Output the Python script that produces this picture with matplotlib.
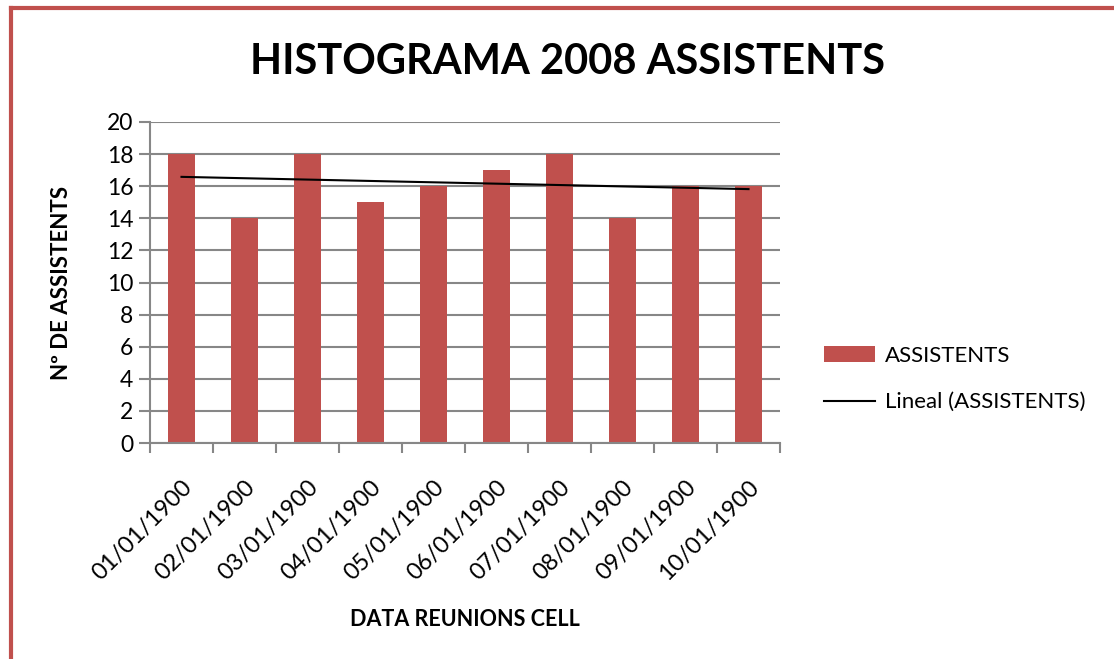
import numpy as np
import matplotlib.pyplot as plt
from matplotlib.lines import Line2D

plt.rcParams['font.family'] = ['Lato', 'DejaVu Sans']

dates = ['01/01/1900', '02/01/1900', '03/01/1900', '04/01/1900', '05/01/1900',
         '06/01/1900', '07/01/1900', '08/01/1900', '09/01/1900', '10/01/1900']
assistents = [18, 14, 18, 15, 16, 17, 18, 14, 16, 16]

red = '#C0504D'
grey = '#878787'

fig = plt.figure(figsize=(11.14, 6.59), dpi=100)
ax = fig.add_axes([150 / 1114, 1 - 443 / 659, 630 / 1114, 321 / 659])

x = np.arange(len(dates))
bars = ax.bar(x, assistents, width=0.42, color=red, zorder=2)

# linia de tendencia (regressio lineal)
k, b = np.polyfit(x + 1, assistents, 1)
trend, = ax.plot(x, k * (x + 1) + b, color='black', lw=1.5, zorder=3)

ax.set_xlim(-0.5, len(dates) - 0.5)
ax.set_ylim(0, 20)
ax.set_yticks(range(0, 21, 2))
ax.yaxis.grid(True, color=grey, lw=1.5, zorder=0)
ax.set_axisbelow(True)

ax.set_xticks(x)
ax.set_xticklabels(dates, rotation=45, ha='right', rotation_mode='anchor', fontsize=17)
ax.set_xticks(np.arange(-0.5, len(dates)), minor=True)
ax.tick_params(axis='x', which='major', length=0, pad=24)
ax.tick_params(axis='x', which='minor', length=7, width=1.5, color=grey, direction='out')
ax.tick_params(axis='y', length=8, width=1.5, color=grey, labelsize=16.5, pad=4)

for s in ['top', 'right']:
    ax.spines[s].set_visible(False)
ax.spines['left'].set_color(grey)
ax.spines['bottom'].set_color(grey)
ax.spines['left'].set_linewidth(1.5)
ax.spines['bottom'].set_linewidth(1.5)

fig.text(62 / 1114, 1 - 283 / 659, 'Nº DE ASSISTENTS', fontsize=16, fontweight='bold',
         rotation=90, ha='center', va='center')
fig.text(465 / 1114, 1 - 620 / 659, 'DATA REUNIONS CELL', fontsize=15.5,
         fontweight='bold', ha='center', va='center')
fig.text(567 / 1114, 1 - 62 / 659, 'HISTOGRAMA 2008 ASSISTENTS', fontsize=30,
         fontweight='bold', ha='center', va='center')

fig.legend([bars, trend], ['ASSISTENTS', 'Lineal (ASSISTENTS)'],
           loc='center left', bbox_to_anchor=(804 / 1114, 1 - 379 / 659),
           frameon=False, fontsize=16, handlelength=2.3, labelspacing=1.2,
           handletextpad=0.45)

# vora vermella (nomes dalt i esquerra)
fig.add_artist(Line2D([11 / 1114, 11 / 1114], [0, 1 - 8 / 659], color=red, lw=3,
                      transform=fig.transFigure))
fig.add_artist(Line2D([11 / 1114, 1], [1 - 8 / 659, 1 - 8 / 659], color=red, lw=3,
                      transform=fig.transFigure))

fig.savefig('out.png', dpi=100)
